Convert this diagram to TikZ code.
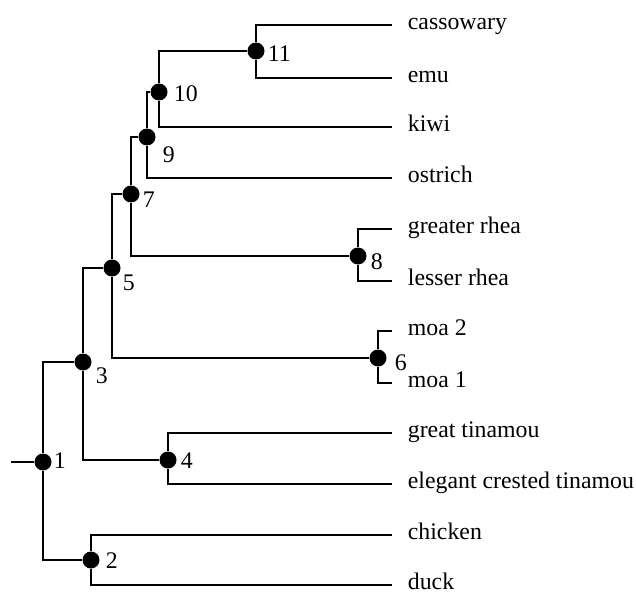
\documentclass[tikz,border=0pt]{standalone}
\usepackage{fontspec}
\setmainfont{Liberation Serif}
\usetikzlibrary{calc}

\tikzset{
  clade/.style={circle, fill=black, inner sep=0pt, minimum size=8.5pt},
  taxon/.style={anchor=mid west, inner xsep=7.5pt, inner ysep=0pt,
    font=\fontsize{11.9}{14}\selectfont},
  cladeno/.style={anchor=base west, inner sep=0pt,
    font=\fontsize{11.9}{14}\selectfont}
}

\begin{document}
\begin{tikzpicture}[x=0.5pt, y=-0.5pt, line width=0.9pt]
    \useasboundingbox (0,0) rectangle (636,593);

    % Taxa
    \node[taxon] (cassowary) at (392,25)  {cassowary};
    \node[taxon] (emu)       at (392,78)  {emu};
    \node[taxon] (kiwi)      at (392,127) {kiwi};
    \node[taxon] (ostrich)   at (392,178) {ostrich};
    \node[taxon] (gRhea)     at (392,229) {greater rhea};
    \node[taxon] (lRhea)     at (392,281) {lesser rhea};
    \node[taxon] (moaTwo)    at (392,331) {moa 2};
    \node[taxon] (moaOne)    at (392,383) {moa 1};
    \node[taxon] (gTinamou)  at (392,433) {great tinamou};
    \node[taxon] (eTinamou)  at (392,484) {elegant crested tinamou};
    \node[taxon] (chicken)   at (392,535) {chicken};
    \node[taxon] (duck)      at (392,585) {duck};

    % Internal nodes
    \coordinate (root) at (11,462);
    \node[clade] (n1)  at (43,462)  {};
    \node[clade] (n2)  at (91,560)  {};
    \node[clade] (n3)  at (83,362)  {};
    \node[clade] (n4)  at (168,460) {};
    \node[clade] (n5)  at (112,268) {};
    \node[clade] (n6)  at (378,358) {};
    \node[clade] (n7)  at (131,194) {};
    \node[clade] (n8)  at (358,256) {};
    \node[clade] (n9)  at (147,137) {};
    \node[clade] (n10) at (159,92)  {};
    \node[clade] (n11) at (256,51)  {};

    % Branches
    \draw (root) -- (n1);
    \draw (n1) |- (n3);  \draw (n1) |- (n2);
    \draw (n2) |- (chicken.mid west);  \draw (n2) |- (duck.mid west);
    \draw (n3) |- (n5);  \draw (n3) |- (n4);
    \draw (n4) |- (gTinamou.mid west);  \draw (n4) |- (eTinamou.mid west);
    \draw (n5) |- (n7);  \draw (n5) |- (n6);
    \draw (n6) |- (moaTwo.mid west);  \draw (n6) |- (moaOne.mid west);
    \draw (n7) |- (n9);  \draw (n7) |- (n8);
    \draw (n8) |- (gRhea.mid west);  \draw (n8) |- (lRhea.mid west);
    \draw (n9) |- (n10);  \draw (n9) |- (ostrich.mid west);
    \draw (n10) |- (n11);  \draw (n10) |- (kiwi.mid west);
    \draw (n11) |- (cassowary.mid west);  \draw (n11) |- (emu.mid west);

    % Clade numbers
    \foreach \n/\dx/\dy in {1/10/6, 2/14/8, 3/12/21, 4/12/8, 5/10/22, 6/16/12,
                            7/11/13, 8/12/13, 9/15/26, 10/14/10, 11/11/11}
        \node[cladeno] at ($(n\n)+(\dx,\dy)$) {\n};
\end{tikzpicture}
\end{document}
